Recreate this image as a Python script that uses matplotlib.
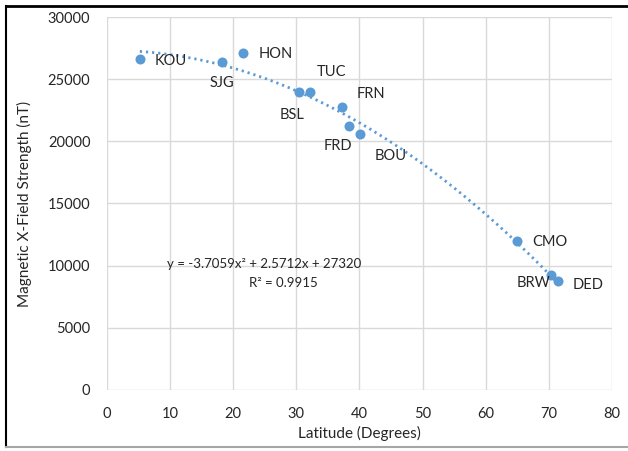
import matplotlib
matplotlib.use('Agg')
import matplotlib.pyplot as plt
from matplotlib.lines import Line2D
import numpy as np

plt.rcParams['font.family'] = ['Lato', 'DejaVu Sans']

# Observatory data
stations = ['KOU', 'SJG', 'HON', 'BSL', 'TUC', 'FRN', 'FRD', 'BOU', 'CMO', 'BRW', 'DED']
latitude = [5.2, 18.2, 21.6, 30.4, 32.2, 37.2, 38.4, 40.1, 65.0, 70.4, 71.5]
x_field = [26600, 26400, 27100, 24000, 24000, 22800, 21200, 20600, 12000, 9250, 8770]

# label offsets in points (dx, dy, horizontal alignment)
label_offsets = {
    'KOU': (11, -1, 'left'), 'SJG': (0, -15, 'center'), 'HON': (11, -1, 'left'),
    'BSL': (-5, -17, 'center'), 'TUC': (15, 14, 'center'), 'FRN': (11, 9, 'left'),
    'FRD': (-8, -14, 'center'), 'BOU': (22, -16, 'center'), 'CMO': (11, -1, 'left'),
    'BRW': (-1, -6, 'right'), 'DED': (10, -3, 'left'),
}

# Excel polynomial trendline coefficients
coef = [-3.7059, 2.5712, 27320]

blue = '#5B9BD5'
grid = '#D9D9D9'

fig = plt.figure(figsize=(6.28, 4.51), dpi=100)
ax = fig.add_axes([0.1704, 0.1353, 0.8041, 0.827])

xs = np.linspace(min(latitude), max(latitude), 200)
ax.plot(xs, np.polyval(coef, xs), color=blue, lw=2, linestyle=(0, (0.8, 1.4)), zorder=2)
ax.scatter(latitude, x_field, s=52, color=blue, zorder=3, linewidths=0)

for name, x, y in zip(stations, latitude, x_field):
    dx, dy, ha = label_offsets[name]
    ax.annotate(name, (x, y), xytext=(dx, dy), textcoords='offset points',
                ha=ha, va='center', fontsize=10.5, color='#262626')

# trendline equation (figure fraction, measured from the top-left)
fig.text(264 / 628, 1 - 264 / 451, 'y = -3.7059x² + 2.5712x + 27320', fontsize=9.5,
         ha='center', va='center', color='#262626')
fig.text(283 / 628, 1 - 283 / 451, 'R² = 0.9915', fontsize=9.5,
         ha='center', va='center', color='#262626')

ax.set_xlim(0, 80)
ax.set_ylim(0, 30000)
ax.set_xticks(np.arange(0, 81, 10))
ax.set_yticks(np.arange(0, 30001, 5000))
ax.grid(True, color=grid, lw=1)
ax.set_axisbelow(True)
for s in ax.spines.values():
    s.set_visible(False)
ax.tick_params(length=0, labelsize=10.5, colors='#262626', pad=12)
ax.set_xlabel('Latitude (Degrees)', fontsize=11, color='#262626', labelpad=4)
ax.set_ylabel('Magnetic X-Field Strength (nT)', fontsize=11, color='#262626', labelpad=11)

# frame around the picture
fig.add_artist(Line2D([6 / 628, 1], [1 - 6 / 451, 1 - 6 / 451], color='black', lw=2))
fig.add_artist(Line2D([6 / 628, 6 / 628], [1 - 6 / 451, 1 - 447 / 451], color='black', lw=1.5))
fig.add_artist(Line2D([6 / 628, 1], [1 - 447 / 451, 1 - 447 / 451], color='#A6A6A6', lw=1.5))

fig.savefig('out.png', dpi=100)
